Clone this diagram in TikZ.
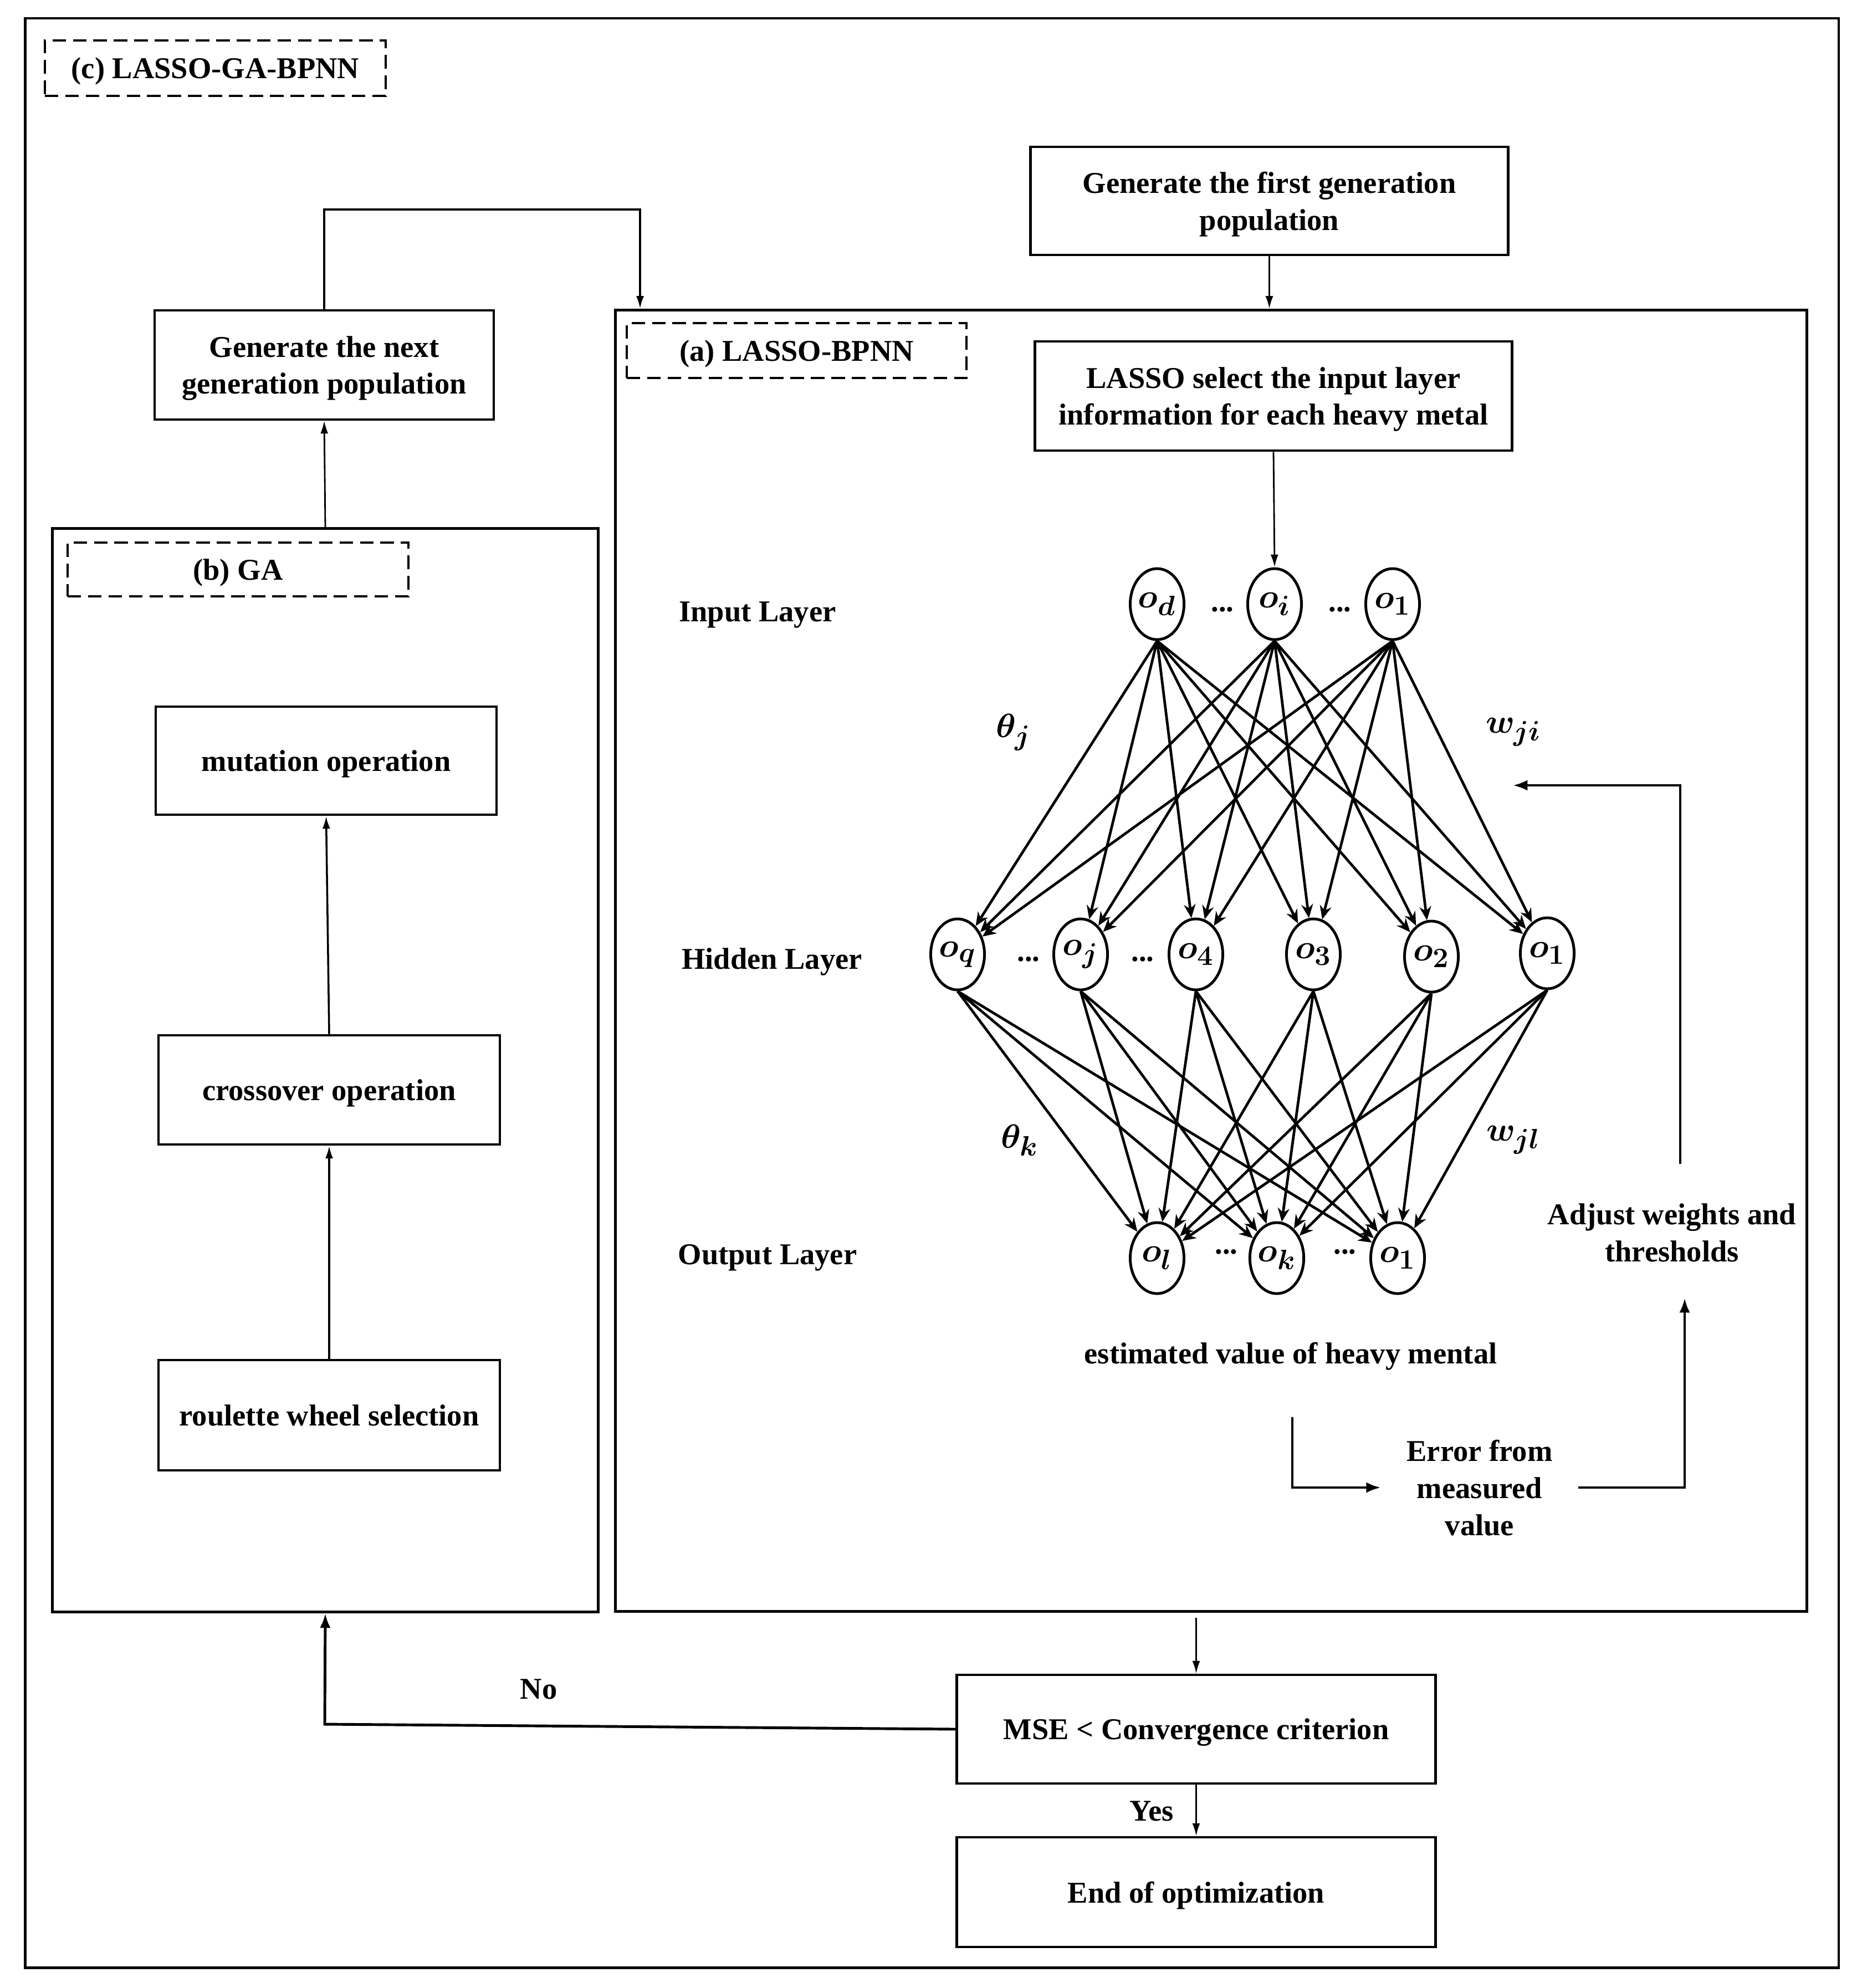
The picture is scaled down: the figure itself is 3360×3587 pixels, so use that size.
\documentclass[tikz,border=0pt]{standalone}
\usepackage{fontspec}
\setmainfont{Liberation Serif}
\usepackage{bm}
\usetikzlibrary{arrows.meta,shapes.geometric}
\begin{document}
\begin{tikzpicture}[x=0.01cm,y=-0.01cm,
  font=\fontsize{15.5}{19}\selectfont\bfseries,
  box/.style={draw, rectangle, line width=1.3pt, align=center, inner sep=0pt, text depth=0pt},
  dbox/.style={draw, rectangle, dash pattern=on 7pt off 3.5pt, line width=1.3pt, inner sep=0pt, text depth=0pt},
  neuron/.style={draw, ellipse, line width=1.4pt, minimum width=0.97cm, minimum height=1.28cm, inner sep=0pt, font=\fontsize{19}{21}\selectfont},
  edge/.style={line width=1.35pt, -{Stealth[length=7pt,width=6pt]}},
  thinarrow/.style={line width=0.8pt, -{Latex[length=6.5pt,width=4pt]}},
  thickarrow/.style={line width=1.4pt, -{Latex[length=7.5pt,width=5.5pt]}},
  lbl/.style={align=center, inner sep=0pt, text depth=0pt},
  mlbl/.style={inner sep=0pt, font=\fontsize{19}{21}\selectfont}
]
\useasboundingbox (0,0) rectangle (3360,3587);

% frames
\node[box, line width=1.4pt, minimum width=32.71cm, minimum height=35.15cm] (outer) at (1681.5,1791.5) {};
\node[box, minimum width=21.49cm, minimum height=23.47cm] (abox) at (2185.5,1733.5) {};
\node[box, minimum width=9.84cm, minimum height=19.54cm] (gabox) at (587,1931) {};

% dashed titles
\node[dbox, minimum width=6.15cm, minimum height=1.00cm] (tc) at (388.5,123) {(c) LASSO-GA-BPNN};
\node[dbox, minimum width=6.13cm, minimum height=0.99cm] (ta) at (1437.5,632.5) {(a) LASSO-BPNN};
\node[dbox, minimum width=6.15cm, minimum height=0.97cm] (tb) at (429.5,1027.5) {(b) GA};

% boxes
\node[box, minimum width=8.61cm, minimum height=1.95cm] (first) at (2290.5,362.5) {Generate the first generation\\population};
\node[box, minimum width=8.60cm, minimum height=1.97cm] (lasso) at (2298,714.5) {LASSO select the input layer\\information for each heavy metal};
\node[box, minimum width=6.12cm, minimum height=1.97cm] (nextgen) at (585,658.5) {Generate the next\\generation population};
\node[box, minimum width=6.15cm, minimum height=1.95cm] (mut) at (588.5,1372.5) {mutation operation};
\node[box, minimum width=6.16cm, minimum height=1.97cm] (cross) at (594,1966.5) {crossover operation};
\node[box, minimum width=6.16cm, minimum height=1.99cm] (roul) at (594,2553.5) {roulette wheel selection};
\node[box, minimum width=8.63cm, minimum height=1.96cm] (mse) at (2158.5,3120) {MSE < Convergence criterion};
\node[box, minimum width=8.63cm, minimum height=1.98cm] (endo) at (2158.5,3414) {End of optimization};

% layer labels
\node[lbl] (linput) at (1367,1104) {Input Layer};
\node[lbl] (lhidden) at (1393,1730) {Hidden Layer};
\node[lbl] (loutput) at (1385,2263) {Output Layer};

% neurons
\node[neuron] (i1) at (2088,1090) {$\bm{o_d}$};
\node[neuron] (i2) at (2300,1090) {$\bm{o_i}$};
\node[neuron] (i3) at (2513,1090) {$\bm{o_1}$};
\node[neuron] (h1) at (1728,1722) {$\bm{o_q}$};
\node[neuron] (h2) at (1950,1722) {$\bm{o_j}$};
\node[neuron] (h3) at (2158,1722) {$\bm{o_4}$};
\node[neuron] (h4) at (2370,1722) {$\bm{o_3}$};
\node[neuron] (h5) at (2583,1726) {$\bm{o_2}$};
\node[neuron] (h6) at (2792,1720) {$\bm{o_1}$};
\node[neuron] (u1) at (2088,2270) {$\bm{o_l}$};
\node[neuron] (u2) at (2304,2270) {$\bm{o_k}$};
\node[neuron] (u3) at (2522,2270) {$\bm{o_1}$};

% dots
\node[lbl] (d1) at (2206,1099) {...};
\node[lbl] (d2) at (2418,1099) {...};
\node[lbl] (d3) at (1856,1730) {...};
\node[lbl] (d4) at (2062,1730) {...};
\node[lbl] (d5) at (2213,2258) {...};
\node[lbl] (d6) at (2427,2258) {...};

% weight labels
\node[mlbl] (thj) at (1829,1321) {$\bm{\theta_j}$};
\node[mlbl] (wji) at (2731,1321) {$\bm{w_{ji}}$};
\node[mlbl] (thk) at (1840,2057) {$\bm{\theta_k}$};
\node[mlbl] (wjl) at (2731,2057) {$\bm{w_{jl}}$};

% network edges
\foreach \s in {i1,i2,i3}
  \foreach \t in {h1,h2,h3,h4,h5,h6}
    \draw[edge] (\s.south) -- (\t);
\foreach \s in {h1,h2,h3,h4,h5,h6}
  \foreach \t in {u1,u2,u3}
    \draw[edge] (\s.south) -- (\t);

% feedback texts
\node[lbl] (est) at (2329,2441) {estimated value of heavy mental};
\node[lbl, inner xsep=0.46cm] (err) at (2670,2684) {Error from\\measured\\value};
\node[lbl] (adj) at (3017,2224) {Adjust weights and\\thresholds};
\node[lbl] (no) at (972,3048) {No};
\node[lbl] (yes) at (2078,3268) {Yes};

\coordinate (estdown) at (2332,2557);
\coordinate (adjbot) at (3040,2342);
\coordinate (adjtop) at (3032,2100);
\coordinate (wtarget) at (2730,1417);
\coordinate (lp) at (1155,378);
\coordinate (nocorner) at (586,3111);

% connectors
\draw[thinarrow] (first.south) -- (first.south |- abox.north);
\draw[thinarrow, line width=1pt] (nextgen.north) |- (lp) -- (lp |- abox.north);
\draw[thinarrow] (lasso.south) -- (i2.north);
\draw[thinarrow] (gabox.north) -- (nextgen.south);
\draw[thinarrow, line width=1pt] (cross.north) -- (mut.south);
\draw[thinarrow, line width=1pt] (roul.north) -- (cross.south);
\draw[thinarrow] ([yshift=-0.09cm]abox.south -| mse.north) -- (mse.north);
\draw[thinarrow] (mse.south) -- (endo.north);
\draw[thickarrow] (mse.west) -- (nocorner) -- (gabox.south);

\draw[thickarrow] (estdown) |- (err.west);
\draw[thickarrow] (err.east) -| (adjbot);
\draw[thickarrow] (adjtop) |- (wtarget);
\end{tikzpicture}
\end{document}
